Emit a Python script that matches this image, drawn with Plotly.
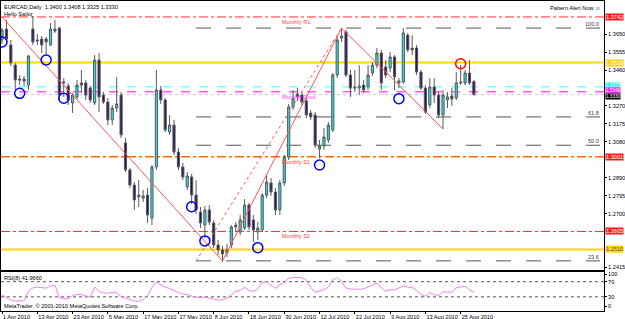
import plotly.graph_objects as go
import pandas as pd

# ---------------- data ----------------
dates = pd.bdate_range("2010-04-01", periods=108)
bars = list(range(len(dates)))

opens = [1.3620, 1.3678, 1.3593, 1.3487, 1.3413, 1.3413, 1.3381, 1.3678, 1.3620, 1.3625,
         1.3625, 1.3593, 1.3667, 1.3683, 1.3392, 1.3376, 1.3286, 1.3318, 1.3392, 1.3392,
         1.3365, 1.3286, 1.3514, 1.3328, 1.3291, 1.3196, 1.3259, 1.3328, 1.3074, 1.2931,
         1.2851, 1.2788, 1.2782, 1.2798, 1.2676, 1.2947, 1.3355, 1.3302, 1.3132, 1.3169,
         1.3026, 1.2947, 1.2841, 1.2894, 1.2798, 1.2708, 1.2639, 1.2719, 1.2650, 1.2533,
         1.2507, 1.2491, 1.2533, 1.2629, 1.2602, 1.2623, 1.2745, 1.2666, 1.2602, 1.2613,
         1.2798, 1.2862, 1.2814, 1.2719, 1.2862, 1.2999, 1.3265, 1.3334, 1.3328, 1.3297,
         1.3233, 1.3222, 1.3042, 1.3058, 1.3090, 1.3143, 1.3434, 1.3630, 1.3662, 1.3434,
         1.3371, 1.3365, 1.3381, 1.3371, 1.3445, 1.3487, 1.3551, 1.3477, 1.3471, 1.3530,
         1.3392, 1.3397, 1.3646, 1.3577, 1.3577, 1.3450, 1.3365, 1.3275, 1.3371, 1.3328,
         1.3222, 1.3302, 1.3323, 1.3312, 1.3397, 1.3392, 1.3445, 1.3400]
highs = [1.3683, 1.3726, 1.3620, 1.3498, 1.3434, 1.3429, 1.3540, 1.3747, 1.3652, 1.3641,
         1.3636, 1.3710, 1.3726, 1.3689, 1.3418, 1.3392, 1.3339, 1.3408, 1.3461, 1.3408,
         1.3376, 1.3540, 1.3551, 1.3344, 1.3312, 1.3275, 1.3424, 1.3344, 1.3100, 1.2941,
         1.2867, 1.2878, 1.2825, 1.2835, 1.2957, 1.3461, 1.3376, 1.3312, 1.3222, 1.3196,
         1.3047, 1.2968, 1.2920, 1.2910, 1.2878, 1.2735, 1.2740, 1.2745, 1.2666, 1.2560,
         1.2528, 1.2539, 1.2639, 1.2655, 1.2692, 1.2777, 1.2756, 1.2692, 1.2655, 1.2809,
         1.2904, 1.2888, 1.2835, 1.2878, 1.3010, 1.3281, 1.3355, 1.3365, 1.3344, 1.3312,
         1.3249, 1.3238, 1.3090, 1.3153, 1.3185, 1.3445, 1.3636, 1.3683, 1.3673, 1.3461,
         1.3461, 1.3487, 1.3408, 1.3487, 1.3503, 1.3577, 1.3567, 1.3514, 1.3556, 1.3540,
         1.3418, 1.3683, 1.3657, 1.3646, 1.3593, 1.3461, 1.3381, 1.3418, 1.3418, 1.3344,
         1.3355, 1.3344, 1.3365, 1.3450, 1.3487, 1.3461, 1.3514, 1.3408]
lows = [1.3599, 1.3615, 1.3482, 1.3355, 1.3381, 1.3376, 1.3355, 1.3593, 1.3593, 1.3551,
        1.3540, 1.3588, 1.3657, 1.3302, 1.3318, 1.3275, 1.3233, 1.3307, 1.3339, 1.3302,
        1.3286, 1.3275, 1.3238, 1.3281, 1.3169, 1.3169, 1.3238, 1.3100, 1.2920, 1.2835,
        1.2719, 1.2735, 1.2761, 1.2650, 1.2639, 1.2931, 1.3281, 1.3132, 1.3117, 1.3010,
        1.2931, 1.2878, 1.2825, 1.2751, 1.2698, 1.2623, 1.2570, 1.2639, 1.2517, 1.2481,
        1.2443, 1.2470, 1.2517, 1.2602, 1.2586, 1.2613, 1.2613, 1.2549, 1.2560, 1.2602,
        1.2782, 1.2793, 1.2692, 1.2692, 1.2846, 1.2984, 1.3249, 1.3297, 1.3275, 1.3206,
        1.3196, 1.3047, 1.2994, 1.3037, 1.3074, 1.3132, 1.3418, 1.3609, 1.3424, 1.3318,
        1.3344, 1.3328, 1.3339, 1.3355, 1.3429, 1.3471, 1.3355, 1.3418, 1.3450, 1.3355,
        1.3365, 1.3387, 1.3556, 1.3540, 1.3434, 1.3355, 1.3228, 1.3259, 1.3286, 1.3206,
        1.3148, 1.3259, 1.3270, 1.3302, 1.3381, 1.3381, 1.3381, 1.3325]
closes = [1.3673, 1.3625, 1.3498, 1.3408, 1.3408, 1.3403, 1.3535, 1.3609, 1.3615, 1.3593,
          1.3609, 1.3678, 1.3678, 1.3328, 1.3397, 1.3302, 1.3328, 1.3381, 1.3381, 1.3328,
          1.3302, 1.3514, 1.3318, 1.3291, 1.3196, 1.3259, 1.3281, 1.3117, 1.2931, 1.2851,
          1.2772, 1.2798, 1.2793, 1.2692, 1.2947, 1.3355, 1.3302, 1.3143, 1.3169, 1.3026,
          1.2947, 1.2894, 1.2899, 1.2798, 1.2719, 1.2650, 1.2719, 1.2655, 1.2533, 1.2507,
          1.2486, 1.2507, 1.2629, 1.2639, 1.2666, 1.2745, 1.2629, 1.2613, 1.2623, 1.2798,
          1.2867, 1.2814, 1.2719, 1.2862, 1.2999, 1.3265, 1.3312, 1.3318, 1.3291, 1.3222,
          1.3212, 1.3063, 1.3058, 1.3106, 1.3169, 1.3434, 1.3620, 1.3641, 1.3434, 1.3365,
          1.3365, 1.3376, 1.3355, 1.3434, 1.3487, 1.3551, 1.3392, 1.3434, 1.3530, 1.3424,
          1.3403, 1.3657, 1.3567, 1.3567, 1.3450, 1.3365, 1.3238, 1.3371, 1.3328, 1.3222,
          1.3328, 1.3318, 1.3307, 1.3392, 1.3392, 1.3445, 1.3392, 1.3330]
rsi8 = [35, 29, 21.4, 18.8, 18.8, 19.7, 44.5, 53.9, 55.6, 54.7,
        53, 59, 60.7, 27.4, 25.7, 24.8, 33.3, 36.8, 35.9, 31.6,
        29.1, 55.6, 44.5, 40.2, 39.3, 42.7, 40.2, 30.8, 26.5, 22.2,
        18.8, 18, 23.1, 33.3, 54.7, 69.2, 61.5, 55.6, 52.2, 46.2,
        41.1, 37.6, 35.9, 31.6, 29.1, 27.4, 29.1, 27.4, 24, 21.4,
        22.2, 26.5, 35, 44.5, 47, 55.6, 47, 44.5, 50.4, 67.5,
        70.1, 60.7, 52.2, 62.4, 67.5, 78.6, 81.2, 81.2, 80.4, 73.5,
        54.7, 41.9, 44.5, 48.7, 55.6, 76.1, 80.4, 70.1, 53, 50.4,
        50.4, 49.6, 51.3, 57.3, 61.5, 66.7, 53, 45.3, 48.7, 47.9,
        53.9, 59, 55.6, 54.7, 47, 36.8, 31.6, 41.1, 35.9, 33.3,
        43.6, 41.9, 41.9, 53.9, 56.4, 58.1, 48.7, 41.966]

date_labels = ["1 Apr 2010", "13 Apr 2010", "23 Apr 2010", "5 May 2010", "17 May 2010",
               "27 May 2010", "8 Jun 2010", "18 Jun 2010", "30 Jun 2010", "12 Jul 2010",
               "22 Jul 2010", "3 Aug 2010", "13 Aug 2010", "25 Aug 2010"]
# scale labels left visible (the others sit under the coloured level labels)
price_ticks = [1.2415, 1.2700, 1.2795, 1.2890, 1.3080, 1.3175, 1.3270,
               1.3460, 1.3555, 1.3650]
rsi_levels = [70, 30]
rsi_tick_text = ["100", "70", "30", "0"]

monthly_names = ["Monthly R1", "Monthly Pivot", "Monthly S1", "Monthly S2"]
monthly_values = [1.3742, 1.3346, 1.3001, 1.2605]
band_values = [1.3500, 1.2510]          # yellow solid levels
cyan_value = 1.3372
bid_value = 1.3330
fib_labels = ["100.0", "61.8", "50.0", "23.6"]
fib_values = [1.3683, 1.3212, 1.3062, 1.2449]
fib_start_bar = 44

trend_down1_bars, trend_down1_px = [0, 50], [1.3742, 1.2449]
trend_up_bars, trend_up_px = [50, 77], [1.2449, 1.3683]
trend_upd_bars, trend_upd_px = [44, 77], [1.2449, 1.3683]
trend_down2_bars, trend_down2_px = [77, 100], [1.3683, 1.3148]

circle_bars = [0, 10, 4, 14, 43, 46, 58, 72, 90]
circle_prices = [1.3609, 1.3514, 1.3337, 1.3311, 1.2736, 1.2555, 1.2519, 1.2957, 1.3309]
alert_bar, alert_price = [104], [1.3494]

tick_pos = [i for i, d in enumerate(dates) if f"{d.day} {d.strftime('%b %Y')}" in date_labels]

# ---------------- styling ----------------
FONT = "Liberation Sans, Arial, DejaVu Sans"
FS = 5.6
XR = [-0.23, 136.5]

fig = go.Figure()

fig.add_trace(go.Candlestick(
    x=bars, open=opens, high=highs, low=lows, close=closes,
    increasing=dict(fillcolor="#22E0E0", line=dict(color="#5a5a5a", width=1)),
    decreasing=dict(fillcolor="#2E0B5E", line=dict(color="#5a5a5a", width=1)),
    whiskerwidth=0, xaxis="x", yaxis="y", hoverinfo="skip"))

for bx, py, dash in [(trend_down1_bars, trend_down1_px, "solid"),
                     (trend_up_bars, trend_up_px, "solid"),
                     (trend_upd_bars, trend_upd_px, "dot"),
                     (trend_down2_bars, trend_down2_px, "solid")]:
    fig.add_trace(go.Scatter(x=bx, y=py, mode="lines",
                             line=dict(color="#FF5555", width=1, dash=dash),
                             xaxis="x", yaxis="y"))

fig.add_trace(go.Scatter(x=circle_bars, y=circle_prices, mode="markers",
                         marker=dict(symbol="circle-open", size=10, color="#0000FF",
                                     line=dict(width=1.5, color="#0000FF")),
                         xaxis="x", yaxis="y"))
fig.add_trace(go.Scatter(x=alert_bar, y=alert_price, mode="markers",
                         marker=dict(symbol="circle-open", size=10, color="#FF0000",
                                     line=dict(width=1.5, color="#FF0000")),
                         xaxis="x", yaxis="y"))

fig.add_trace(go.Scatter(x=bars, y=rsi8, mode="lines",
                         line=dict(color="#EE82EE", width=1), xaxis="x2", yaxis="y2"))

shapes = []
def hline(y, color, dash="solid", width=1, yref="y", x0=0, x1=1, xref="paper"):
    shapes.append(dict(type="line", xref=xref, yref=yref, x0=x0, x1=x1, y0=y, y1=y,
                       line=dict(color=color, width=width, dash=dash), layer="below"))

hline(monthly_values[0], "#FF3030", "dashdot")
hline(band_values[0], "#FFD700", "solid", 2)
hline(cyan_value, "#7FFFFF", "dash", 1.5)
hline(monthly_values[1], "#FF55FF", "dash", 1.5)
hline(bid_value, "#C8C8C8", "dot")
hline(monthly_values[2], "#FF6A00", "dashdot", 1.5)
hline(monthly_values[3], "#FF3030", "dashdot")
hline(band_values[1], "#FFD700", "solid", 2)
for v in fib_values:
    hline(v, "#555555", "longdash", 1, xref="x", x0=fib_start_bar, x1=XR[1] - 0.9)
for v in rsi_levels:
    hline(v, "#555555", "dot", 1, yref="y2")

ann = []
def text(x, y, s, color="black", xref="paper", yref="paper", xa="left", ya="top",
         xs=0, ys=0, bg=None, size=FS):
    d = dict(x=x, y=y, xref=xref, yref=yref, text=s, showarrow=False, xanchor=xa,
             yanchor=ya, xshift=xs, yshift=ys, borderpad=0,
             font=dict(color=color, size=size, family=FONT))
    if bg:
        d.update(bgcolor=bg)
    ann.append(d)

text(0, 1, "EURCAD,Daily  1.3400 1.3408 1.3325 1.3330", xs=2, ys=-2)
text(0, 1, "Hello Sailor", xs=2, ys=-8.5)
text(1, 1, "Pattern Alert Now \u263A", xa="right", xs=-2, ys=-3)

monthly_colors = ["#FF4040", "#FF40FF", "#FF4020", "#FF4040"]
for n, v, c in zip(monthly_names, monthly_values, monthly_colors):
    text(63.3, v, n, color=c, xref="x", yref="y", ys=-1)
for lab, v in zip(fib_labels, fib_values):
    text(135.6, v, lab, color="#404040", xref="x", yref="y", xa="right", ya="bottom", ys=0)

def plabel(v, bg, fg="white", size=FS, ys=0):
    text(1, v, f"{v:.4f}", color=fg, yref="y", xa="left", ya="middle", xs=1, ys=ys,
         bg=bg, size=size)
plabel(monthly_values[0], "#FF1A1A")
plabel(band_values[0], "#FFD400")
plabel(cyan_value, "#22EEEE", size=4.6, ys=1)
plabel(monthly_values[1], "#FF22FF", size=4.6, ys=1)
plabel(bid_value, "#000000", size=4.6, ys=-2)
plabel(monthly_values[2], "#FF1A1A")
plabel(monthly_values[3], "#FF1A1A")
plabel(band_values[1], "#FFD400", "#555555")

text(0, 0.1258, f"RSI(8) {rsi8[-1]:.4f}", xs=2, ys=-2)
text(0, 0, "MetaTrader, \u00A9 2001-2010 MetaQuotes Software Corp.", ya="bottom", xs=2, ys=1)

axis_common = dict(showgrid=False, zeroline=False, showline=True, mirror=True,
                   linecolor="black", linewidth=1, tickcolor="black", automargin=False,
                   tickfont=dict(size=FS, family=FONT, color="black"))

fig.update_layout(
    width=625, height=319, margin=dict(l=1, r=21, t=1, b=8),
    paper_bgcolor="white", plot_bgcolor="white", showlegend=False,
    font=dict(family=FONT, size=FS, color="black"),
    xaxis=dict(domain=[0, 1], anchor="y", range=XR, showticklabels=False, ticks="",
               rangeslider=dict(visible=False), **axis_common),
    yaxis=dict(domain=[0.1323, 1], anchor="x", range=[1.24008, 1.38265], side="right",
               tickvals=price_ticks, tickformat=".4f", ticks="outside", ticklen=2,
               **axis_common),
    xaxis2=dict(domain=[0, 1], anchor="y2", range=XR, tickvals=tick_pos, ticktext=date_labels,
                ticks="outside", ticklen=2, tickangle=0,
                ticklabelposition="outside right", **axis_common),
    yaxis2=dict(domain=[0, 0.1258], anchor="x2", range=[-7.5, 95.7], side="right",
                tickvals=[90.4, 70, 30, 5.1], ticktext=rsi_tick_text, ticks="outside",
                ticklen=2, **axis_common),
    shapes=shapes, annotations=ann,
)

fig.write_html("out.html")
